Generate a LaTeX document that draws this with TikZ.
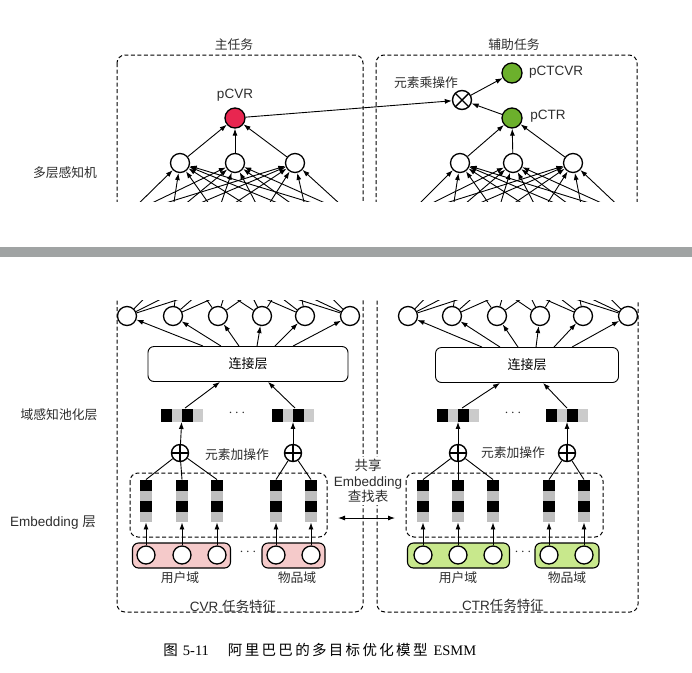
\documentclass[tikz,border=0pt]{standalone}
\usepackage{fontspec}
\setmainfont{Liberation Sans}
\newfontfamily\cjk{Noto Sans CJK SC}
\newfontfamily\capserif{Liberation Serif}
\usetikzlibrary{arrows.meta}
\definecolor{cvrred}{RGB}{232,38,80}
\definecolor{ctrgreen}{RGB}{108,176,44}
\definecolor{userpink}{RGB}{245,202,202}
\definecolor{itemgreen}{RGB}{200,232,140}
\definecolor{cellgray}{RGB}{190,190,190}
\definecolor{bargray}{RGB}{160,163,163}
\definecolor{labelink}{RGB}{45,45,45}

\begin{document}
\begin{tikzpicture}[x=1pt,y=-1pt,
      neuron/.style={circle,draw,line width=1.3pt,fill=white,minimum size=19pt,inner sep=0pt},
      outnode/.style={neuron,minimum size=20pt},
      opnode/.style={circle,draw,line width=1.4pt,fill=white,minimum size=17pt,inner sep=0pt},
      addop/.style={opnode,path picture={\draw[line width=1.4pt] (path picture bounding box.north) -- (path picture bounding box.south) (path picture bounding box.west) -- (path picture bounding box.east);}},
      mulop/.style={opnode,minimum size=19pt,path picture={\draw[line width=1.4pt] (path picture bounding box.north west) -- (path picture bounding box.south east) (path picture bounding box.north east) -- (path picture bounding box.south west);}},
      task/.style={draw,dash pattern=on 4pt off 2.5pt,line width=1pt,rounded corners=8pt},
      concat/.style={draw,line width=0.9pt,rounded corners=6pt,minimum height=35pt,font=\cjk\fontsize{13}{15}\selectfont},
      domainbox/.style={draw,line width=1.1pt,rounded corners=6pt,minimum height=25pt},
      poolvec/.style={minimum width=42pt,minimum height=13pt,inner sep=0pt,fill=cellgray!80,
        path picture={\fill[black] (path picture bounding box.south west) rectangle ([xshift=10.5pt]path picture bounding box.north west);
          \fill[black] ([xshift=21pt]path picture bounding box.south west) rectangle ([xshift=31.5pt]path picture bounding box.north west);}},
      embvec/.style={minimum width=12pt,minimum height=42pt,inner sep=0pt,fill=cellgray,
        path picture={\fill[black] (path picture bounding box.north west) rectangle ([yshift=-10.5pt]path picture bounding box.north east);
          \fill[black] ([yshift=-21pt]path picture bounding box.north west) rectangle ([yshift=-31.5pt]path picture bounding box.north east);}},
      lbl/.style={font=\fontsize{13.5}{15.5}\selectfont,text=labelink,inner sep=1pt},
      cjklbl/.style={lbl,font=\cjk\fontsize{12.8}{15}\selectfont},
      >={Latex[length=7pt,width=5pt]},line width=0.9pt
    ]
    \useasboundingbox (0,0) rectangle (692,672);

    % top: main task and auxiliary task
    \node[cjklbl] (mainlbl) at (234,45) {主任务};
    \node[cjklbl] (auxlbl) at (514,45) {辅助任务};
    \node[cjklbl] (mlplbl) at (65,173) {多层感知机};

    \foreach \x [count=\i] in {180,235,295} \node[neuron] (mh\i) at (\x,163) {};
    \foreach \x [count=\i] in {460,513,573} \node[neuron] (ah\i) at (\x,163) {};
    \node[outnode,fill=cvrred] (pcvr) at (235,118) {};
    \node[lbl] (pcvrlbl) at (235,95) {pCVR};
    \node[outnode,fill=ctrgreen] (pctr) at (512,118) {};
    \node[lbl] (pctrlbl) at (548,116) {pCTR};
    \node[outnode,fill=ctrgreen] (pctcvr) at (512,73) {};
    \node[lbl] (pctcvrlbl) at (556,72) {pCTCVR};
    \node[mulop] (mul) at (462,100) {};
    \node[cjklbl] (mullbl) at (426,83) {元素乘操作};

    \foreach \i in {1,2,3} \draw[->] (mh\i) -- (pcvr);
    \foreach \i in {1,2,3} \draw[->] (ah\i) -- (pctr);
    \draw[->] (pcvr) -- (mul);
    \draw[->] (pctr) -- (mul);
    \draw[->] (mul) -- (pctcvr);

    \begin{scope}
      \clip (0,0) rectangle (692,201);
      \draw[task] (117,55) rectangle (363,240);
      \draw[task] (376,55) rectangle (637,240);
      \foreach \x [count=\j] in {127,172,217,262,307,352} \coordinate (mi\j) at (\x,215);
      \foreach \x [count=\j] in {408,452,497,540,583,628} \coordinate (ai\j) at (\x,215);
      \foreach \j in {1,...,6} \foreach \i in {1,2,3} {
        \draw[->] (mi\j) -- (mh\i);
        \draw[->] (ai\j) -- (ah\i);
      }
    \end{scope}

    % cut between the two halves
    \fill[bargray] (0,247) rectangle (692,257);

    % bottom: hidden row, concat, pooling
    \foreach \x [count=\i] in {127,173,218,262,305,350} \node[neuron] (mb\i) at (\x,316) {};
    \foreach \x [count=\i] in {408,452,497,540,583,628} \node[neuron] (ab\i) at (\x,316) {};

    \begin{scope}
      \clip (0,300) rectangle (692,672);
      \draw[task] (117,260) rectangle (363,612);
      \draw[task] (377,260) rectangle (638,612);
      \foreach \x [count=\i] in {180,235,295} \coordinate (mu\i) at (\x,262);
      \foreach \x [count=\i] in {460,513,573} \coordinate (au\i) at (\x,262);
      \foreach \j in {1,...,6} \foreach \i in {1,2,3} {
        \draw (mb\j) -- (mu\i);
        \draw (ab\j) -- (au\i);
      }
    \end{scope}

    \node[concat,minimum width=200pt] (mcat) at (248,364) {连接层};
    \node[concat,minimum width=183pt] (acat) at (527,365) {连接层};
    \foreach \i in {1,...,6} {
      \pgfmathsetmacro{\dx}{(\i-3.5)*18}
      \draw[->] ([xshift=\dx pt]mcat.north) -- (mb\i);
      \draw[->] ([xshift=\dx pt]acat.north) -- (ab\i);
    }

    \node[cjklbl] (poollbl) at (59,415) {域感知池化层};
    \node[poolvec] (mp1) at (182,415) {};
    \node[poolvec] (mp2) at (293,415) {};
    \node[poolvec] (ap1) at (458,415) {};
    \node[poolvec] (ap2) at (567,415) {};
    \node[lbl] (mpdots) at (237,413) {$\cdots$};
    \node[lbl] (apdots) at (513,413) {$\cdots$};
    \draw[->] ([xshift=3pt]mp1.north) -- ([xshift=-28pt]mcat.south);
    \draw[->] ([xshift=2pt]mp2.north) -- ([xshift=20pt]mcat.south);
    \draw[->] ([xshift=4pt]ap1.north) -- ([xshift=-27pt]acat.south);
    \draw[->] (ap2.north) -- ([xshift=16pt]acat.south);

    \node[addop] (madd1) at (180,453) {};
    \node[addop] (madd2) at (293,453) {};
    \node[addop] (aadd1) at (458,453) {};
    \node[addop] (aadd2) at (567,453) {};
    \node[cjklbl] (maddlbl) at (237,455) {元素加操作};
    \node[cjklbl] (aaddlbl) at (513,453) {元素加操作};
    \draw[->] (madd1) -- (mp1);
    \draw[->] (madd2) -- (mp2);
    \draw[->] (aadd1) -- (ap1);
    \draw[->] (aadd2) -- (ap2);

    % embedding layer
    \node[lbl] (emblbl) at (53,523) {Embedding {\cjk 层}};
    \draw[task] (130,473) rectangle (327,537);
    \draw[task] (406,473) rectangle (603,537);
    \foreach \x [count=\i] in {146,182,217,276,311} \node[embvec] (me\i) at (\x,501) {};
    \foreach \x [count=\i] in {423,458,493,549,584} \node[embvec] (ae\i) at (\x,501) {};
    \foreach \i in {1,2,3} {
      \draw (madd1) -- (me\i.north);
      \draw (aadd1) -- (ae\i.north);
    }
    \foreach \i in {4,5} {
      \draw (madd2) -- (me\i.north);
      \draw (aadd2) -- (ae\i.north);
    }

    \node[lbl,align=center,fill=white,inner sep=2pt] (share) at (368,481) {{\cjk 共享}\\Embedding\\{\cjk 查找表}};
    \coordinate (sharel) at (338,518);
    \coordinate (sharer) at (395,518);
    \draw[<->] (sharel) -- (sharer);

    % input fields
    \node[domainbox,fill=userpink,minimum width=98pt] (muser) at (181.5,555.5) {};
    \node[domainbox,fill=userpink,minimum width=63pt] (mitem) at (293.5,555.5) {};
    \node[domainbox,fill=itemgreen,minimum width=102pt] (auser) at (458.5,555.5) {};
    \node[domainbox,fill=itemgreen,minimum width=64pt] (aitem) at (567,555.5) {};
    \foreach \x [count=\i] in {146,182,217,276,311} \node[neuron,minimum size=18pt] (mf\i) at (\x,555) {};
    \foreach \x [count=\i] in {423,458,493,549,584} \node[neuron,minimum size=18pt] (af\i) at (\x,555) {};
    \foreach \i in {1,...,5} {
      \draw[->] (mf\i) -- (me\i.south);
      \draw[->] (af\i) -- (ae\i.south);
    }
    \node[lbl] (mfdots) at (248,552) {$\cdots$};
    \node[lbl] (afdots) at (523,552) {$\cdots$};
    \node[cjklbl] (muserlbl) at (180,578) {用户域};
    \node[cjklbl] (mitemlbl) at (297,578) {物品域};
    \node[cjklbl] (auserlbl) at (458,578) {用户域};
    \node[cjklbl] (aitemlbl) at (567,578) {物品域};
    \node[lbl] (cvrfeat) at (233,606) {CVR {\cjk 任务特征}};
    \node[lbl] (ctrfeat) at (503,605) {CTR{\cjk 任务特征}};

    % caption
    \node[anchor=west,inner sep=0pt,font=\cjk\fontsize{14.5}{16}\selectfont] (caption) at (163,650)
      {图\hspace{5pt}{\capserif 5-11}\hspace{19pt}{\addfontfeature{LetterSpace=16}阿里巴巴的多目标优化模型}\hspace{6pt}{\capserif ESMM}};
  \end{tikzpicture}
\end{document}
